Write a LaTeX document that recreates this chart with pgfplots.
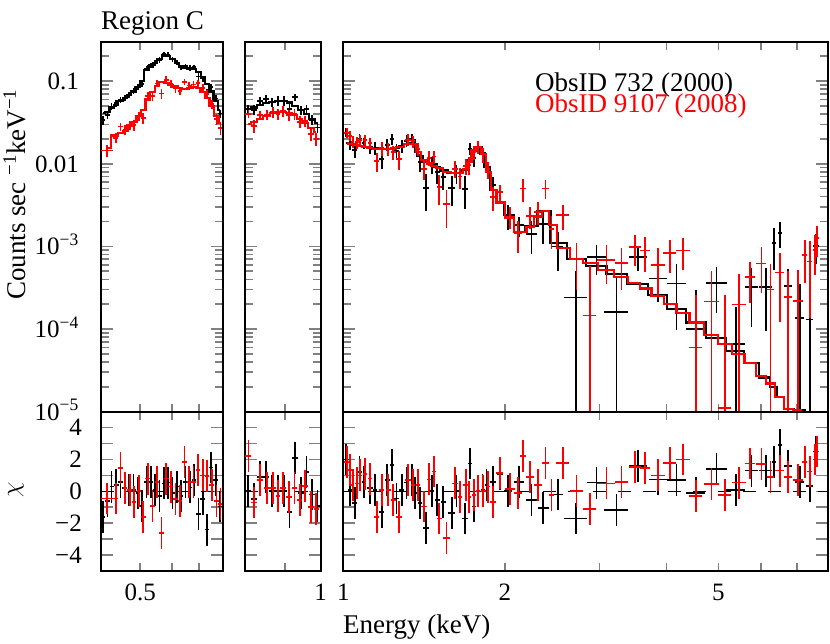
\documentclass[border=0pt]{standalone}
\usepackage{fontspec}
\setmainfont{Liberation Serif}
\usepackage{pgfplots}
\usepackage{pgfplotstable}
\pgfplotsset{compat=1.18}

% Panel 1 (0.4-0.8 keV)
\pgfplotstableread{
E ex m c s
0.405 0.005 0.0410 -1.6 0.0045
0.415 0.005 0.0420 -0.6 0.0045
0.425 0.005 0.0480 0.3 0.0045
0.436 0.006 0.0520 0.4 0.0048
0.447 0.006 0.0570 0.6 0.0050
0.458 0.006 0.0620 0.2 0.0053
0.469 0.006 0.0680 0.1 0.0057
0.481 0.006 0.0750 0.1 0.0062
0.493 0.006 0.0850 -0.1 0.0068
0.505 0.007 0.1000 -0.9 0.0078
0.518 0.007 0.1350 0.6 0.0100
0.531 0.007 0.1500 0.6 0.0110
0.544 0.007 0.1650 0.1 0.0120
0.558 0.007 0.1850 -0.3 0.0135
0.572 0.007 0.2050 0.5 0.0150
0.586 0.008 0.2000 0.55 0.0148
0.601 0.008 0.1850 -0.1 0.0138
0.616 0.008 0.1650 0.3 0.0125
0.631 0.008 0.1500 -0.3 0.0115
0.647 0.008 0.1450 0.6 0.0112
0.663 0.008 0.1420 0.25 0.0110
0.680 0.009 0.1400 0.7 0.0110
0.697 0.009 0.1280 -1.4 0.0100
0.714 0.009 0.1120 -0.5 0.0090
0.732 0.009 0.0920 -2.4 0.0078
0.750 0.009 0.0750 1.5 0.0066
0.769 0.010 0.0580 0.7 0.0055
0.788 0.010 0.0450 -0.95 0.0046
}\pAk
\pgfplotstableread{
E ex m c s
0.414 0.014 0.0155 -0.45 0.0024
0.435 0.006 0.0220 -0.45 0.0030
0.447 0.006 0.0235 1.45 0.0032
0.459 0.006 0.0250 0.2 0.0034
0.471 0.006 0.0290 0.1 0.0038
0.483 0.006 0.0320 -0.65 0.0042
0.496 0.006 0.0380 0.0 0.0049
0.509 0.007 0.0450 -1.6 0.0058
0.522 0.007 0.0600 0.8 0.0075
0.536 0.007 0.0740 -0.9 0.0090
0.550 0.007 0.0880 0.6 0.0100
0.565 0.007 0.0980 -2.6 0.0105
0.580 0.008 0.0950 0.8 0.0105
0.595 0.008 0.0900 0.3 0.0100
0.611 0.008 0.0860 -0.5 0.0095
0.627 0.008 0.0820 -0.6 0.0092
0.644 0.008 0.0810 1.85 0.0092
0.661 0.009 0.0830 0.6 0.0095
0.678 0.009 0.0850 0.6 0.0097
0.696 0.009 0.0820 1.35 0.0095
0.714 0.009 0.0740 1.0 0.0090
0.733 0.009 0.0620 0.95 0.0080
0.752 0.010 0.0500 0.4 0.0068
0.772 0.010 0.0380 -0.6 0.0055
0.790 0.009 0.0310 -0.8 0.0047
}\pAr
% Panel 2 (0.8-1 keV)
\pgfplotstableread{
E ex m c s
0.807 0.0075 0.0460 0.0 0.0060
0.822 0.0075 0.0480 -0.5 0.0062
0.837 0.0075 0.0510 0.9 0.0066
0.852 0.0075 0.0540 0.9 0.0070
0.867 0.0075 0.0560 0.0 0.0073
0.882 0.0075 0.0580 0.0 0.0075
0.897 0.0075 0.0580 0.0 0.0075
0.912 0.0075 0.0550 -1.3 0.0072
0.927 0.0075 0.0500 2.1 0.0065
0.943 0.0080 0.0450 -0.1 0.0059
0.959 0.0080 0.0400 1.2 0.0052
0.975 0.0080 0.0350 -0.2 0.0046
0.991 0.0080 0.0310 -0.9 0.0040
}\pBk
\pgfplotstableread{
E ex m c s
0.808 0.0070 0.0300 2.2 0.0045
0.822 0.0070 0.0320 -0.7 0.0048
0.836 0.0070 0.0350 0.7 0.0053
0.853 0.0080 0.0380 0.2 0.0057
0.869 0.0070 0.0410 0.2 0.0062
0.882 0.0060 0.0420 -0.3 0.0063
0.895 0.0070 0.0420 0.2 0.0063
0.911 0.0080 0.0410 -0.35 0.0062
0.926 0.0070 0.0390 0.2 0.0059
0.940 0.0070 0.0350 -0.55 0.0053
0.955 0.0080 0.0310 0.35 0.0047
0.972 0.0080 0.0270 -1.0 0.0041
0.987 0.0070 0.0240 -1.1 0.0036
}\pBr
% Panel 3 (1-8 keV)
\pgfplotstableread{
E ex m c s
1.012 0.012 0.0178 2.0 0.0030
1.029 0.010 0.0175 0.1 0.0030
1.051 0.011 0.0170 -0.75 0.0030
1.072 0.010 0.0165 1.2 0.0030
1.093 0.011 0.0161 0.6 0.0029
1.121 0.013 0.0156 0.2 0.0029
1.146 0.012 0.0153 0.1 0.0028
1.179 0.014 0.0151 -1.3 0.0028
1.208 0.013 0.0150 0.7 0.0028
1.231 0.011 0.0152 1.65 0.0028
1.257 0.013 0.0156 -0.45 0.0029
1.285 0.014 0.0163 0.1 0.0030
1.312 0.013 0.0172 0.55 0.0031
1.341 0.014 0.0176 0.7 0.0032
1.360 0.010 0.0170 -0.1 0.0031
1.389 0.014 0.0125 -0.75 0.0026
1.426 0.016 0.0106 -2.3 0.0024
1.461 0.016 0.0099 0.0 0.0023
1.496 0.017 0.0091 -0.55 0.0022
1.536 0.018 0.0083 -0.65 0.0021
1.592 0.022 0.0078 -1.35 0.0020
1.626 0.016 0.0077 0.0 0.0020
1.685 0.020 0.0085 -1.7 0.0021
1.722 0.016 0.0110 1.75 0.0024
1.752 0.014 0.0145 -0.95 0.0028
1.784 0.016 0.0160 0.0 0.0030
1.818 0.016 0.0133 0.1 0.0027
1.849 0.016 0.0092 0.4 0.0022
1.902 0.022 0.0048 0.6 0.0013
1.958 0.025 0.0034 1.1 0.0010
2.029 0.035 0.0024 0.0 0.0008
2.127 0.045 0.00150 0.6 0.0005
2.243 0.050 0.00175 -0.55 0.0006
2.358 0.055 0.0027 -1.05 0.0008
2.510 0.060 0.00110 -0.2 0.0005
2.713 0.135 0.00070 -1.7 0.00027
2.964 0.125 0.00058 0.55 0.00030
3.229 0.170 0.00046 -1.15 0.00026
3.543 0.135 0.00035 1.6 0.00025
3.861 0.150 0.00026 0.75 0.00020
4.178 0.170 0.000175 0.7 0.00026
4.537 0.190 0.00012 -0.1 0.00020
4.958 0.220 0.000078 1.4 0.00020
5.386 0.220 0.000054 0.1 0.00012
5.762 0.170 0.000039 1.3 0.00022
6.126 0.170 0.000026 1.3 0.00023
6.341 0.060 0.000020 1.85 0.00058
6.506 0.060 0.000015 2.9 0.00050
6.742 0.120 0.0000108 1.6 0.00020
7.087 0.140 0.0000105 0.6 0.00021
7.395 0.120 0.000008 0.35 0.00035
7.610 0.100 0.000005 2.5 0.00040
}\pCk
\pgfplotstableread{
E ex m c s
1.015 0.010 0.0178 1.85 0.0032
1.029 0.007 0.0175 1.35 0.0032
1.041 0.007 0.0172 0.4 0.0031
1.059 0.009 0.0168 0.5 0.0030
1.074 0.008 0.0165 1.0 0.0030
1.098 0.011 0.0161 1.1 0.0029
1.121 0.011 0.0156 0.8 0.0028
1.154 0.013 0.0152 -1.6 0.0028
1.179 0.012 0.0151 0.1 0.0028
1.213 0.014 0.0150 0.1 0.0028
1.239 0.012 0.0153 -0.55 0.0028
1.271 0.015 0.0160 -1.6 0.0029
1.321 0.016 0.0174 0.7 0.0031
1.350 0.013 0.0175 0.4 0.0031
1.379 0.013 0.0140 0.4 0.0028
1.415 0.018 0.0110 -0.95 0.0024
1.446 0.013 0.0101 0.75 0.0023
1.475 0.014 0.0095 1.25 0.0022
1.509 0.017 0.0088 -1.7 0.0021
1.558 0.025 0.0080 -2.95 0.0016
1.615 0.018 0.0077 0.5 0.0020
1.650 0.016 0.0077 -0.35 0.0020
1.692 0.018 0.0086 0.4 0.0021
1.716 0.012 0.0105 -0.35 0.0024
1.752 0.016 0.0145 -0.25 0.0028
1.784 0.014 0.0160 0.0 0.0030
1.823 0.020 0.0130 0.0 0.0027
1.862 0.018 0.0080 0.3 0.0020
1.902 0.022 0.0048 -0.65 0.0013
1.958 0.030 0.0034 1.15 0.0010
2.044 0.045 0.0022 0.15 0.0007
2.118 0.035 0.00150 -0.1 0.0006
2.163 0.025 0.00150 2.2 0.0016
2.227 0.035 0.00170 0.9 0.0007
2.307 0.040 0.00230 0.4 0.0008
2.382 0.035 0.00270 1.8 0.0013
2.444 0.030 0.00180 -0.25 0.0007
2.563 0.070 0.00095 1.8 0.0008
2.721 0.080 0.00070 0.0 0.0004
2.880 0.080 0.00063 -1.1 0.00044
3.094 0.120 0.00052 0.5 0.00034
3.299 0.090 0.00043 0.6 0.00033
3.493 0.090 0.00036 1.55 0.00040
3.646 0.080 0.00031 1.45 0.00040
3.861 0.120 0.00025 1.0 0.00035
4.059 0.110 0.00020 1.8 0.00035
4.297 0.130 0.000155 2.0 0.00037
4.537 0.130 0.00012 -0.3 0.00020
4.853 0.160 0.000085 0.45 0.00029
5.137 0.150 0.000066 -0.22 0.00025
5.463 0.160 0.000050 0.55 0.00027
5.719 0.120 0.000039 1.75 0.00022
6.014 0.130 0.000027 1.7 0.00035
6.250 0.100 0.000022 0.9 0.00031
6.506 0.120 0.000015 1.3 0.00036
6.742 0.110 0.0000108 0.9 0.00026
7.036 0.140 0.0000105 0.7 0.00030
7.240 0.080 0.000008 1.85 0.00042
7.395 0.070 0.000007 1.25 0.00052
7.557 0.070 0.000006 2.0 0.00045
7.632 0.050 0.000005 2.5 0.00050
}\pCr

\newcommand{\dataplot}[2]{%
  \addplot[color=#1, only marks, mark=text, text mark={},
    error bars/y dir=both, error bars/y explicit,
    error bars/x dir=both, error bars/x explicit,
    error bars/error mark=none,
    error bars/error bar style={line width=1.7pt, color=#1}]
    table[x=E, y expr=\thisrow{m}+\thisrow{c}*\thisrow{s}, x error=ex,
      y error plus=s,
      y error minus expr={min(\thisrow{s},\thisrow{m}+\thisrow{c}*\thisrow{s}-2e-6)}] {#2};
  \addplot[color=#1, line width=2.2pt, const plot mark mid, mark=none] table[x=E, y=m] {#2};
}
\newcommand{\resplot}[2]{%
  \addplot[color=#1, only marks, mark=text, text mark={},
    error bars/y dir=both, error bars/y fixed=1,
    error bars/x dir=both, error bars/x explicit,
    error bars/error mark=none,
    error bars/error bar style={line width=1.7pt, color=#1}]
    table[x=E, y=c, x error=ex] {#2};
}

\pgfplotsset{every axis/.append style={
    scale only axis,
    axis line style={line width=1.8pt},
    tick style={line width=1.6pt},
    major tick length=12pt, minor tick length=8pt,
    major x tick style={draw=none},
    tick align=inside,
    ticklabel style={font=\fontsize{25}{25}\selectfont, inner sep=0pt},
    xticklabel style={anchor=base, yshift=-29pt},
    yticklabel style={anchor=base east, yshift=-8.3pt},
}}

\begin{document}
\begin{tikzpicture}
\useasboundingbox (0,0) rectangle (830pt,643pt);

% ---------- top row ----------
\begin{axis}[anchor=south west, at={(101pt,231.3pt)}, width=121.7pt, height=370pt,
  xmode=log, ymode=log, xmin=0.4, xmax=0.8, ymin=1e-5, ymax=0.3,
  xtick={0.5}, minor xtick={0.5,0.6,0.7}, xticklabels={},
  ytick={1e-5,1e-4,1e-3,1e-2,1e-1},
  minor ytick={2e-5,3e-5,4e-5,5e-5,6e-5,7e-5,8e-5,9e-5,2e-4,3e-4,4e-4,5e-4,6e-4,7e-4,8e-4,9e-4,2e-3,3e-3,4e-3,5e-3,6e-3,7e-3,8e-3,9e-3,2e-2,3e-2,4e-2,5e-2,6e-2,7e-2,8e-2,9e-2,2e-1},
  yticklabel style={xshift=-22pt},
  yticklabels={10\textsuperscript{−5},10\textsuperscript{−4},10\textsuperscript{−3},0.01\hspace{2pt},0.1\hspace{-7pt}}]
\dataplot{black}{\pAk}
\dataplot{red}{\pAr}
\end{axis}

\begin{axis}[anchor=south west, at={(245pt,231.3pt)}, width=75.7pt, height=370pt,
  xmode=log, ymode=log, xmin=0.8, xmax=1, ymin=1e-5, ymax=0.3,
  xtick={1}, minor xtick={0.9}, xticklabels={},
  ytick={1e-5,1e-4,1e-3,1e-2,1e-1},
  minor ytick={2e-5,3e-5,4e-5,5e-5,6e-5,7e-5,8e-5,9e-5,2e-4,3e-4,4e-4,5e-4,6e-4,7e-4,8e-4,9e-4,2e-3,3e-3,4e-3,5e-3,6e-3,7e-3,8e-3,9e-3,2e-2,3e-2,4e-2,5e-2,6e-2,7e-2,8e-2,9e-2,2e-1},
  yticklabels={}]
\dataplot{black}{\pBk}
\dataplot{red}{\pBr}
\end{axis}

\begin{axis}[anchor=south west, at={(343.3pt,231.3pt)}, width=484.7pt, height=370pt,
  xmode=log, ymode=log, xmin=1, xmax=8, ymin=1e-5, ymax=0.3,
  xtick={1,2,5}, minor xtick={2,3,4,5,6,7}, xticklabels={},
  ytick={1e-5,1e-4,1e-3,1e-2,1e-1},
  minor ytick={2e-5,3e-5,4e-5,5e-5,6e-5,7e-5,8e-5,9e-5,2e-4,3e-4,4e-4,5e-4,6e-4,7e-4,8e-4,9e-4,2e-3,3e-3,4e-3,5e-3,6e-3,7e-3,8e-3,9e-3,2e-2,3e-2,4e-2,5e-2,6e-2,7e-2,8e-2,9e-2,2e-1},
  yticklabels={}]
\dataplot{black}{\pCk}
\dataplot{red}{\pCr}
\end{axis}

% ---------- bottom row ----------
\begin{axis}[anchor=south west, at={(101pt,72pt)}, width=121.7pt, height=159.3pt,
  xmode=log, xmin=0.4, xmax=0.8, ymin=-5, ymax=5,
  xtick={0.5}, minor xtick={0.5,0.6,0.7}, xticklabels={0.5},
  ytick={-4,-3,-2,-1,0,1,2,3,4}, yticklabel style={xshift=-19pt},
  yticklabels={{−4},{},{−2},{},{0},{},{2},{},{4}}]
\addplot[black, line width=1.6pt, dash pattern=on 13pt off 12pt] coordinates {(0.4,0) (0.8,0)};
\resplot{black}{\pAk}
\resplot{red}{\pAr}
\end{axis}

\begin{axis}[anchor=south west, at={(245pt,72pt)}, width=75.7pt, height=159.3pt,
  xmode=log, xmin=0.8, xmax=1, ymin=-5, ymax=5,
  xtick={1}, minor xtick={0.9}, xticklabels={1},
  ytick={-4,-3,-2,-1,0,1,2,3,4}, yticklabels={}]
\addplot[black, line width=1.6pt, dash pattern=on 13pt off 12pt] coordinates {(0.8,0) (1,0)};
\resplot{black}{\pBk}
\resplot{red}{\pBr}
\end{axis}

\begin{axis}[anchor=south west, at={(343.3pt,72pt)}, width=484.7pt, height=159.3pt,
  xmode=log, xmin=1, xmax=8, ymin=-5, ymax=5,
  xtick={1,2,5}, minor xtick={2,3,4,5,6,7}, xticklabels={1,2,5},
  ytick={-4,-3,-2,-1,0,1,2,3,4}, yticklabels={}]
\addplot[black, line width=1.6pt, dash pattern=on 13pt off 12pt] coordinates {(1,0) (8,0)};
\resplot{black}{\pCk}
\resplot{red}{\pCr}
\end{axis}

% ---------- texts ----------
\node[anchor=base west, inner sep=0pt, font=\fontsize{27}{27}\selectfont] at (101pt,613.7pt) {Region C};
\node[anchor=base west, inner sep=0pt, font=\fontsize{27}{27}\selectfont] at (535pt,551.5pt) {ObsID 732 (2000)};
\node[anchor=base west, inner sep=0pt, text=red, font=\fontsize{27}{27}\selectfont] at (535pt,530.3pt) {ObsID 9107 (2008)};
\node[anchor=base west, inner sep=0pt, font=\fontsize{27}{27}\selectfont] at (343pt,9.7pt) {Energy (keV)};
\node[rotate=90, anchor=base west, inner sep=0pt, font=\fontsize{27}{27}\selectfont] at (25pt,343pt) {Counts sec \textsuperscript{−1}keV\textsuperscript{−1}};
\node[rotate=90, inner sep=0pt, font=\fontsize{27}{27}\selectfont] at (16pt,153pt) {$\chi$};
\end{tikzpicture}
\end{document}
